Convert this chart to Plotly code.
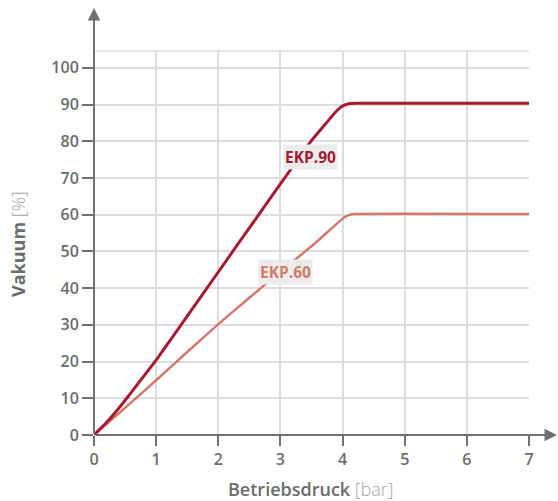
import plotly.graph_objects as go

# ---- data ----
ekp90_x = [0, 0.2, 0.4, 0.6, 1, 1.5, 2, 2.5, 3, 3.5, 3.9, 3.98, 4.05, 4.12, 4.2, 7]
ekp90_y = [0, 3.4, 7.3, 11.6, 20.4, 32.4, 44.4, 56.4, 68.4, 80.2, 88.2, 89.4, 90.0, 90.3, 90.4, 90.4]

ekp60_x = [0, 0.5, 1, 1.5, 2, 2.5, 3, 3.5, 3.95, 4.03, 4.1, 4.18, 7]
ekp60_y = [0, 7.4, 14.9, 22.6, 30.2, 37.4, 44.5, 51.4, 58.2, 59.3, 59.9, 60.2, 60.2]

x_ticks = [0, 1, 2, 3, 4, 5, 6, 7]
y_ticks = [0, 10, 20, 30, 40, 50, 60, 70, 80, 90, 100]

label90 = "EKP.90"
label60 = "EKP.60"
x_title_main, x_title_unit = "Betriebsdruck", "[bar]"
y_title_main, y_title_unit = "Vakuum", "[%]"

C90 = "#a51a2f"
C60 = "#d27969"
AX = "#717171"
GRID = "#dddddd"
TXT = "#6c6c6c"
UNIT = "#a6a6a6"
FONT = "Open Sans"

W, H = 558, 501
ML, MR, MT, MB = 94, 29, 51, 66
PW, PH = W - ML - MR, H - MT - MB

fig = go.Figure()
fig.add_trace(go.Scatter(x=ekp60_x, y=ekp60_y, mode="lines",
                         line=dict(color=C60, width=2.5, shape="spline", smoothing=0.3),
                         hoverinfo="skip", showlegend=False))
fig.add_trace(go.Scatter(x=ekp90_x, y=ekp90_y, mode="lines",
                         line=dict(color=C90, width=3, shape="spline", smoothing=0.3),
                         hoverinfo="skip", showlegend=False))

def px_x(p):  # pixel -> paper x
    return (p - ML) / PW

def px_y(p):  # pixel -> paper y
    return (H - MB - p) / PH

# axis arrows
fig.add_annotation(xref="paper", yref="paper", axref="pixel", ayref="pixel",
                   x=0, y=px_y(8), ax=0, ay=(H - MB) - 8, showarrow=True, arrowhead=2,
                   arrowsize=1.25, arrowwidth=2, arrowcolor=AX, text="", standoff=0)
fig.add_annotation(xref="paper", yref="paper", axref="pixel", ayref="pixel",
                   x=px_x(557), y=0, ax=-(557 - ML), ay=0, showarrow=True, arrowhead=2,
                   arrowsize=1.25, arrowwidth=2, arrowcolor=AX, text="", standoff=0)

# top border grid line
fig.add_shape(type="line", xref="paper", yref="paper", x0=0, x1=1, y0=1, y1=1,
              line=dict(color=GRID, width=1.5), layer="below")

# series labels
fig.add_annotation(x=3.49, y=75.6, xref="x", yref="y", text="<b>%s</b>" % label90,
                   showarrow=False, font=dict(family=FONT, size=15.5, color=C90),
                   bgcolor="#ececec", borderpad=1)
fig.add_annotation(x=3.08, y=44.5, xref="x", yref="y", text="<b>%s</b>" % label60,
                   showarrow=False, font=dict(family=FONT, size=15.5, color=C60),
                   bgcolor="#ececec", borderpad=1)

# axis titles
fig.add_annotation(xref="paper", yref="paper", x=px_x(311), y=px_y(489),
                   text='<span style="color:%s">%s</span> <span style="color:%s;font-weight:300">%s</span>'
                        % (TXT, x_title_main, UNIT, x_title_unit),
                   showarrow=False, font=dict(family=FONT, size=18, weight=600),
                   xanchor="center", yanchor="middle")
fig.add_annotation(xref="paper", yref="paper", x=px_x(18), y=px_y(244),
                   text='<span style="color:%s">%s</span> <span style="color:%s;font-weight:300">%s</span>'
                        % (TXT, y_title_main, UNIT, y_title_unit),
                   showarrow=False, textangle=-90, font=dict(family=FONT, size=18, weight=700),
                   xanchor="center", yanchor="middle")

fig.update_xaxes(range=[0, 7], tickvals=x_ticks, ticktext=[str(v) for v in x_ticks],
                 showgrid=True, gridcolor=GRID, gridwidth=1.5, zeroline=False,
                 showline=False, ticks="outside", ticklen=10, tickwidth=2, tickcolor=AX,
                 tickfont=dict(family=FONT, size=16, color=TXT, weight=600),
                 fixedrange=True)
fig.update_yaxes(range=[0, 104.6], tickvals=y_ticks, ticktext=[str(v) for v in y_ticks],
                 showgrid=True, gridcolor=GRID, gridwidth=1.5, zeroline=False,
                 showline=False, ticks="outside", ticklen=11, tickwidth=2, tickcolor=AX,
                 tickfont=dict(family=FONT, size=16, color=TXT, weight=600),
                 fixedrange=True)

fig.update_layout(width=W, height=H, margin=dict(l=ML, r=MR, t=MT, b=MB),
                  plot_bgcolor="white", paper_bgcolor="white", showlegend=False)

fig.write_html("out.html", config={"displayModeBar": False},
               post_script="document.body.style.margin='0';document.body.style.overflow='hidden';")
